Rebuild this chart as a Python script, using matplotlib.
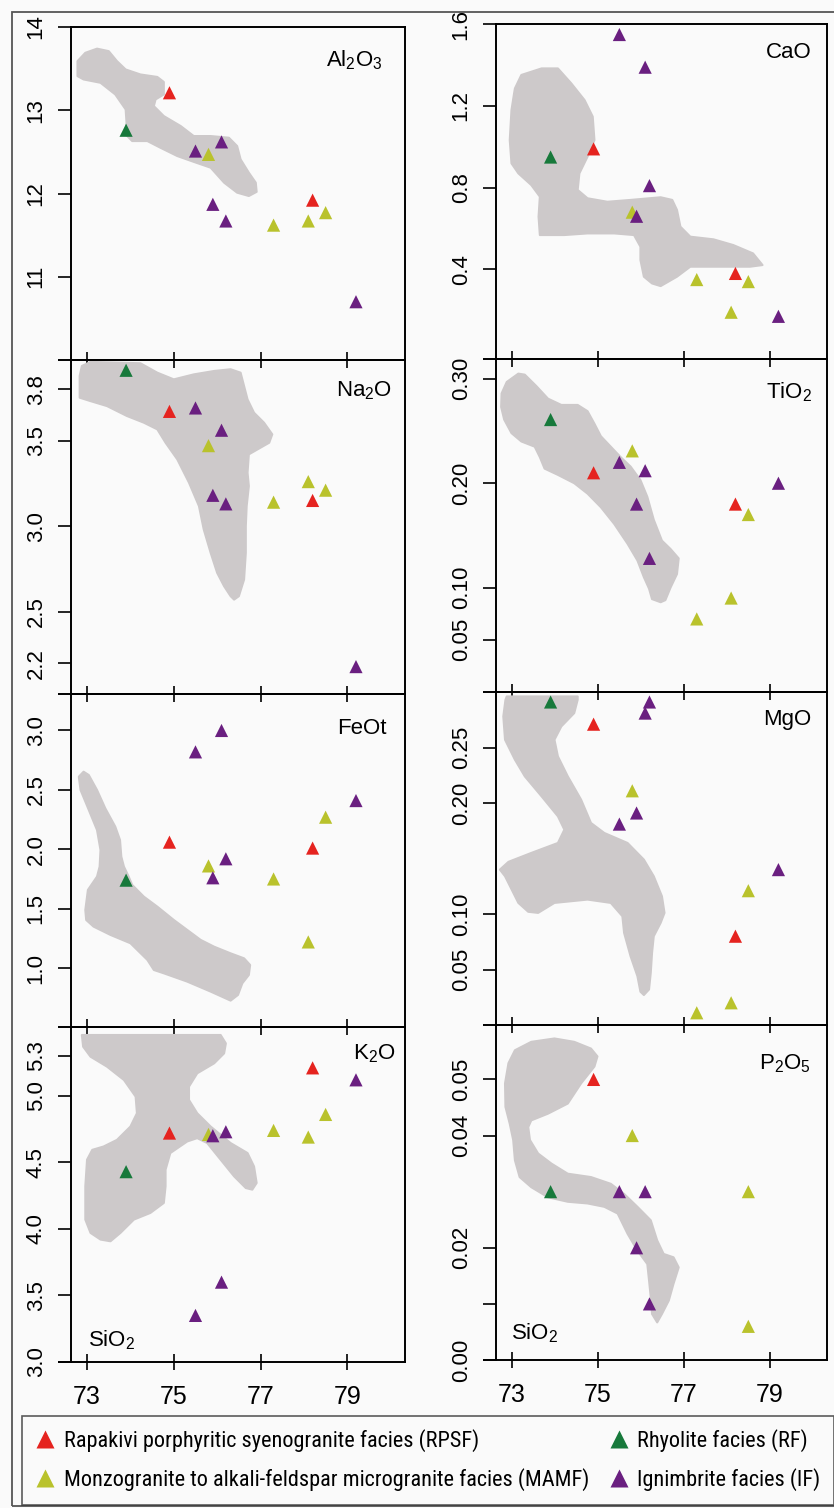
import matplotlib
matplotlib.use('Agg')
import matplotlib.pyplot as plt
import numpy as np
from matplotlib import font_manager
from matplotlib.lines import Line2D
from matplotlib.patches import Polygon, Rectangle

plt.rcParams['font.family'] = ['Liberation Sans', 'DejaVu Sans']
plt.rcParams['mathtext.default'] = 'regular'

nan = np.nan

# facies and their colours
FACIES = ['RPSF', 'MAMF', 'RF', 'IF']
FACIES_LABELS = {
    'RPSF': 'Rapakivi porphyritic syenogranite facies (RPSF)',
    'MAMF': 'Monzogranite to alkali-feldspar microgranite facies (MAMF)',
    'RF': 'Rhyolite facies (RF)',
    'IF': 'Ignimbrite facies (IF)',
}
COLORS = {'RPSF': '#e5231f', 'MAMF': '#b9c22c', 'RF': '#17793b', 'IF': '#6a1f80'}

# SiO2 of the samples (x of every panel)
SIO2 = {
    'RPSF': [74.9, 78.2],
    'RF': [73.9],
    'MAMF': [75.8, 77.3, 78.1, 78.5, 78.5],
    'IF': [75.5, 75.9, 76.1, 76.2, 79.2],
}

AL2O3 = {'RPSF': [13.21, 11.92], 'RF': [12.76],
         'MAMF': [12.47, 11.62, 11.67, 11.77, nan],
         'IF': [12.51, 11.87, 12.62, 11.67, 10.70]}
CAO = {'RPSF': [0.99, 0.38], 'RF': [0.95],
       'MAMF': [0.68, 0.35, 0.19, 0.34, nan],
       'IF': [1.55, 0.66, 1.39, 0.81, 0.17]}
NA2O = {'RPSF': [3.67, 3.15], 'RF': [3.91],
        'MAMF': [3.47, 3.14, 3.26, 3.21, nan],
        'IF': [3.69, 3.18, 3.56, 3.13, 2.18]}
TIO2 = {'RPSF': [0.210, 0.180], 'RF': [0.261],
        'MAMF': [0.231, 0.070, 0.090, 0.170, nan],
        'IF': [0.220, 0.180, 0.212, 0.128, 0.200]}
FEOT = {'RPSF': [2.06, 2.01], 'RF': [1.74],
        'MAMF': [1.86, 1.75, 1.22, 2.27, nan],
        'IF': [2.82, 1.76, 3.00, 1.92, 2.41]}
MGO = {'RPSF': [0.271, 0.080], 'RF': [0.291],
       'MAMF': [0.211, 0.011, 0.020, 0.121, nan],
       'IF': [0.181, 0.191, 0.281, 0.291, 0.140]}
K2O = {'RPSF': [4.72, 5.21], 'RF': [4.43],
       'MAMF': [4.71, 4.74, 4.69, 4.86, nan],
       'IF': [3.35, 4.70, 3.60, 4.73, 5.12]}
P2O5 = {'RPSF': [0.050, nan], 'RF': [0.030],
        'MAMF': [0.040, nan, nan, 0.030, 0.006],
        'IF': [0.030, 0.020, 0.030, 0.010, nan]}

# grey reference fields (SiO2, oxide) outlines
AL2O3_FIELD_SIO2 = [72.78, 72.96, 73.23, 73.50, 73.69, 73.89, 74.23, 74.62, 74.77, 74.77,
                    74.58, 74.54, 74.77, 75.16, 75.46, 75.85, 76.27, 76.46, 76.54, 76.73,
                    76.89, 76.91, 76.73, 76.46, 76.16, 75.85, 75.46, 75.08, 74.69, 74.39,
                    74.04, 73.89, 73.91, 73.89, 73.65, 73.31, 72.92, 72.78]
AL2O3_FIELD = [13.59, 13.69, 13.74, 13.71, 13.59, 13.49, 13.43, 13.40, 13.34, 13.19,
               13.13, 13.05, 12.93, 12.81, 12.69, 12.69, 12.67, 12.57, 12.41, 12.25,
               12.13, 12.02, 11.97, 12.01, 12.13, 12.31, 12.38, 12.45, 12.55, 12.63,
               12.63, 12.71, 12.85, 13.01, 13.19, 13.33, 13.37, 13.41]

CAO_FIELD_SIO2 = [73.07, 73.22, 73.69, 74.07, 74.38, 74.69, 74.88, 74.92, 74.76, 74.57,
                  74.53, 74.76, 75.22, 75.76, 76.46, 76.73, 76.84, 76.92, 77.15, 77.69,
                  78.15, 78.61, 78.83, 78.54, 77.69, 77.15, 76.84, 76.46, 76.26, 76.07,
                  75.99, 75.99, 75.84, 75.38, 74.76, 74.22, 73.65, 73.62, 73.65, 73.45,
                  73.15, 72.99, 72.95, 72.99, 73.05]
CAO_FIELD = [1.286, 1.352, 1.384, 1.384, 1.311, 1.229, 1.148, 1.033, 0.952, 0.870,
             0.789, 0.748, 0.731, 0.740, 0.753, 0.740, 0.691, 0.609, 0.560, 0.547,
             0.519, 0.478, 0.421, 0.413, 0.413, 0.413, 0.364, 0.318, 0.331, 0.364,
             0.446, 0.511, 0.568, 0.576, 0.576, 0.568, 0.568, 0.658, 0.756, 0.813,
             0.870, 0.919, 1.033, 1.180, 1.261]

NA2O_FIELD_SIO2 = [72.83, 72.83, 72.88, 73.08, 74.23, 74.62, 75.00, 75.46, 75.93, 76.31,
                   76.54, 76.62, 76.70, 76.85, 77.08, 77.27, 77.20, 76.93, 76.73, 76.70,
                   76.73, 76.68, 76.66, 76.66, 76.62, 76.50, 76.39, 76.31, 76.16, 76.00,
                   75.85, 75.69, 75.58, 75.35, 75.08, 74.81, 74.62, 74.31, 73.92, 73.46,
                   73.08]
NA2O_FIELD = [3.750, 3.877, 3.935, 3.959, 3.951, 3.896, 3.857, 3.886, 3.906, 3.916,
              3.896, 3.818, 3.740, 3.662, 3.604, 3.536, 3.487, 3.448, 3.419, 3.312,
              3.234, 3.117, 3.000, 2.844, 2.688, 2.591, 2.571, 2.591, 2.649, 2.727,
              2.844, 2.981, 3.117, 3.254, 3.390, 3.487, 3.565, 3.604, 3.643, 3.701,
              3.730]

TIO2_FIELD_SIO2 = [72.76, 72.88, 73.15, 73.30, 73.57, 73.84, 74.15, 74.53, 74.76, 74.92,
                   75.07, 75.30, 75.53, 75.76, 75.99, 76.15, 76.30, 76.49, 76.69, 76.88,
                   76.84, 76.69, 76.57, 76.46, 76.26, 76.19, 76.07, 75.92, 75.69, 75.38,
                   75.07, 74.76, 74.45, 74.07, 73.76, 73.65, 73.53, 73.22, 72.99, 72.82,
                   72.75]
TIO2_FIELD = [0.286, 0.297, 0.305, 0.304, 0.293, 0.281, 0.275, 0.275, 0.269, 0.257,
              0.245, 0.235, 0.225, 0.216, 0.203, 0.187, 0.165, 0.145, 0.137, 0.128,
              0.113, 0.100, 0.088, 0.086, 0.089, 0.099, 0.110, 0.126, 0.142, 0.161,
              0.177, 0.190, 0.200, 0.208, 0.214, 0.225, 0.235, 0.240, 0.248, 0.261,
              0.273]

FEOT_FIELD_SIO2 = [72.81, 72.85, 73.04, 73.23, 73.31, 73.29, 73.23, 73.02, 72.96, 72.98,
                   73.15, 73.54, 74.00, 74.39, 74.54, 74.77, 75.31, 75.85, 76.31, 76.48,
                   76.58, 76.73, 76.76, 76.62, 76.31, 75.93, 75.62, 75.31, 75.00, 74.62,
                   74.31, 74.04, 73.96, 73.85, 73.79, 73.76, 73.65, 73.42, 73.23, 73.04,
                   72.92]
FEOT_FIELD = [2.611, 2.499, 2.331, 2.162, 1.994, 1.854, 1.770, 1.658, 1.489, 1.405,
              1.349, 1.279, 1.209, 1.069, 0.984, 0.956, 0.886, 0.802, 0.726, 0.774,
              0.872, 0.942, 1.026, 1.082, 1.124, 1.180, 1.237, 1.321, 1.405, 1.517,
              1.601, 1.700, 1.770, 1.854, 1.938, 2.078, 2.191, 2.345, 2.499, 2.625,
              2.653]

MGO_FIELD_SIO2 = [72.85, 72.88, 74.53, 74.53, 74.45, 74.15, 73.99, 74.07, 74.30, 74.61,
                  74.84, 75.15, 75.69, 76.07, 76.30, 76.49, 76.55, 76.46, 76.30, 76.26,
                  76.23, 76.19, 76.07, 75.99, 75.92, 75.76, 75.61, 75.57, 75.30, 74.76,
                  73.99, 73.61, 73.38, 73.15, 72.84, 72.72, 72.92, 73.45, 74.07, 74.22,
                  74.07, 73.69, 73.30, 73.07, 72.84, 72.80]
MGO_FIELD = [0.293, 0.296, 0.296, 0.293, 0.281, 0.269, 0.257, 0.242, 0.224, 0.203,
             0.182, 0.173, 0.164, 0.149, 0.134, 0.116, 0.101, 0.092, 0.080, 0.065,
             0.047, 0.032, 0.027, 0.030, 0.044, 0.062, 0.083, 0.098, 0.110, 0.113,
             0.110, 0.101, 0.102, 0.110, 0.134, 0.140, 0.147, 0.155, 0.164, 0.176,
             0.188, 0.206, 0.224, 0.239, 0.257, 0.278]

K2O_FIELD_SIO2 = [72.91, 72.88, 76.08, 76.20, 76.16, 75.93, 75.54, 75.35, 75.35, 75.54,
                  75.85, 76.31, 76.70, 76.85, 76.91, 76.81, 76.66, 76.39, 76.08, 75.77,
                  75.54, 75.31, 74.92, 74.81, 74.81, 74.77, 74.46, 74.08, 73.77, 73.54,
                  73.31, 73.08, 72.96, 72.96, 73.00, 73.12, 73.38, 73.69, 74.00, 74.15,
                  74.12, 73.85, 73.46, 73.08]
K2O_FIELD = [5.369, 5.457, 5.457, 5.394, 5.319, 5.244, 5.169, 5.069, 4.969, 4.869,
             4.769, 4.645, 4.570, 4.469, 4.345, 4.295, 4.307, 4.395, 4.520, 4.645,
             4.682, 4.657, 4.570, 4.445, 4.320, 4.195, 4.120, 4.070, 3.970, 3.907,
             3.920, 3.970, 4.070, 4.320, 4.520, 4.594, 4.619, 4.669, 4.769, 4.869,
             4.994, 5.119, 5.219, 5.294]

P2O5_FIELD_SIO2 = [72.84, 72.92, 73.07, 73.45, 73.99, 74.45, 74.84, 74.99, 74.92, 74.61,
                   74.30, 73.84, 73.45, 73.38, 73.42, 73.61, 73.92, 74.30, 74.84, 75.30,
                   75.61, 75.92, 76.23, 76.38, 76.53, 76.76, 76.88, 76.76, 76.65, 76.49,
                   76.38, 76.26, 76.23, 76.19, 76.15, 75.92, 75.69, 75.46, 75.15, 74.76,
                   74.30, 73.84, 73.45, 73.18, 73.07, 73.03, 72.95, 72.85]
P2O5_FIELD = [0.0493, 0.0529, 0.0552, 0.0567, 0.0573, 0.0567, 0.0555, 0.0541, 0.0523, 0.0493,
              0.0457, 0.0439, 0.0427, 0.0415, 0.0392, 0.0368, 0.0350, 0.0332, 0.0326, 0.0314,
              0.0296, 0.0273, 0.0249, 0.0213, 0.0189, 0.0183, 0.0165, 0.0136, 0.0106, 0.0082,
              0.0067, 0.0082, 0.0112, 0.0142, 0.0171, 0.0195, 0.0225, 0.0261, 0.0273, 0.0279,
              0.0282, 0.0290, 0.0308, 0.0326, 0.0356, 0.0392, 0.0421, 0.0451]

X_TICKS = [73, 75, 77, 79]
X_LIM = (72.63, 80.33)

W, H = 834, 1508
BG = '#fafafa'
FIELD_COLOR = '#cdc9ca'

# (values, field x, field y, label, ylim, yticks, yticklabels,
#  axes box px (l, t, r, b), label anchor px (right x, centre y))
PANELS = [
    (AL2O3, AL2O3_FIELD_SIO2, AL2O3_FIELD, r'Al$_2$O$_3$', (10, 14),
     [11, 12, 13, 14], ['11', '12', '13', '14'], (71, 27, 405, 360), (383, 60)),
    (CAO, CAO_FIELD_SIO2, CAO_FIELD, 'CaO', (-0.039, 1.6015),
     [0.4, 0.8, 1.2, 1.6], ['0.4', '0.8', '1.2', '1.6'], (496, 24, 827, 359), (812, 53)),
    (NA2O, NA2O_FIELD_SIO2, NA2O_FIELD, r'Na$_2$O', (2.02, 3.97),
     [2.2, 2.5, 3.0, 3.5, 3.8], ['2.2', '2.5', '3.0', '3.5', '3.8'], (71, 360, 405, 694), (392, 391)),
    (TIO2, TIO2_FIELD_SIO2, TIO2_FIELD, r'TiO$_2$', (0.0, 0.319),
     [0.05, 0.10, 0.20, 0.30], ['0.05', '0.10', '0.20', '0.30'], (496, 359, 827, 692), (812, 392)),
    (FEOT, FEOT_FIELD_SIO2, FEOT_FIELD, 'FeOt', (0.504, 3.307),
     [1.0, 1.5, 2.0, 2.5, 3.0], ['1.0', '1.5', '2.0', '2.5', '3.0'], (71, 694, 405, 1027), (387, 729)),
    (MGO, MGO_FIELD_SIO2, MGO_FIELD, 'MgO', (0.0, 0.30),
     [0.05, 0.10, 0.20, 0.25], ['0.05', '0.10', '0.20', '0.25'], (496, 692, 827, 1025), (811, 719)),
    (K2O, K2O_FIELD_SIO2, K2O_FIELD, r'K$_2$O', (3.0, 5.517),
     [3.0, 3.5, 4.0, 4.5, 5.0, 5.3], ['3.0', '3.5', '4.0', '4.5', '5.0', '5.3'],
     (71, 1027, 405, 1362), (395, 1054)),
    (P2O5, P2O5_FIELD_SIO2, P2O5_FIELD, r'P$_2$O$_5$', (0.0, 0.0597),
     [0.0, 0.01, 0.02, 0.04, 0.05], ['0.00', '', '0.02', '0.04', '0.05'],
     (496, 1025, 827, 1360), (811, 1064)),
]


def fig_xy(px, py):
    return px / W, 1 - py / H


def narrow_font():
    # pick a condensed sans face if one is installed
    names = {f.name for f in font_manager.fontManager.ttflist}
    for name in ['Liberation Sans Narrow', 'Roboto Condensed', 'Open Sans Condensed',
                 'DejaVu Sans Condensed']:
        if name in names:
            return font_manager.FontProperties(family=name, size=16)
    return font_manager.FontProperties(family='Liberation Sans', size=12.5)


fig = plt.figure(figsize=(W / 100, H / 100), dpi=100, facecolor=BG)

for i, (vals, fx, fy, label, ylim, yt, ytl, box, lab) in enumerate(PANELS):
    l, t, r, b = box
    ax = fig.add_axes([l / W, 1 - b / H, (r - l) / W, (b - t) / H])
    ax.set_facecolor('none')
    ax.add_patch(Polygon(np.column_stack([fx, fy]), closed=True,
                         facecolor=FIELD_COLOR, edgecolor=FIELD_COLOR, lw=1.5,
                         joinstyle='round', zorder=1))
    for fac in FACIES:
        ax.scatter(SIO2[fac], vals[fac], marker='^', s=90, color=COLORS[fac],
                   edgecolors='none', zorder=3)
    ax.set_xlim(*X_LIM)
    ax.set_ylim(*ylim)
    ax.set_xticks(X_TICKS)
    ax.set_yticks(yt)
    ax.set_yticklabels(ytl)
    if i >= 6:
        ax.set_xticklabels([str(v) for v in X_TICKS])
    else:
        ax.set_xticklabels([])
    for s in ax.spines.values():
        s.set_linewidth(1.4)
    ax.tick_params(axis='y', direction='out', length=9.5, width=1.2,
                   labelsize=16, pad=8)
    ax.tick_params(axis='x', direction='inout', length=11, width=1.2,
                   labelsize=18, pad=11)
    plt.setp(ax.get_yticklabels(), rotation=90, va='center')
    # short stub of the bottom frame line to the left of the y axis
    ax.plot([-13.5 / (r - l), 0], [0, 0], transform=ax.transAxes,
            color='black', lw=1.4, clip_on=False, solid_capstyle='butt')
    x, y = fig_xy(*lab)
    fig.text(x, y, label, ha='right', va='center', fontsize=16)

# SiO2 axis name inside the bottom panels
for px, py in [(88, 1340), (511, 1333)]:
    x, y = fig_xy(px, py)
    fig.text(x, y, r'SiO$_2$', ha='left', va='center', fontsize=16)

# outer frame
x0, y0 = fig_xy(12, 1506)
fig.add_artist(Rectangle((x0, y0), 1.0, (1506 - 12) / H, transform=fig.transFigure,
                         fill=False, edgecolor='#555555', lw=1.3))

handles = [Line2D([], [], marker='^', ls='none', markersize=13,
                  markerfacecolor=COLORS[f], markeredgecolor='none') for f in FACIES]
labels = [FACIES_LABELS[f] for f in FACIES]
lx, ly = fig_xy(22, 1416)
leg = fig.legend(handles, labels, loc='upper left',
                 bbox_to_anchor=(lx, ly, (834 - 22) / W, 0.0), mode='expand',
                 ncol=2, frameon=True, fancybox=False, edgecolor='#333333',
                 borderaxespad=0, handlelength=0.9, handletextpad=0.4,
                 labelspacing=0.72, borderpad=0.6, columnspacing=1.0,
                 prop=narrow_font())
leg.get_frame().set_linewidth(1.2)
leg.get_frame().set_facecolor(BG)

fig.savefig('out.png', dpi=100, facecolor=BG)
